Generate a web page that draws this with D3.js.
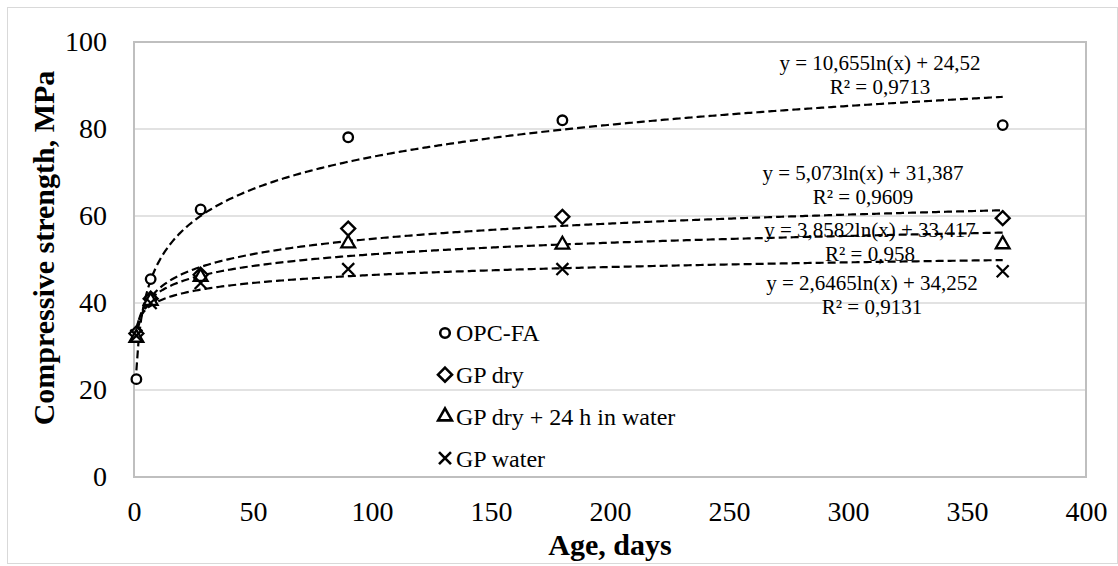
<!DOCTYPE html>
<html>
<head>
<meta charset="utf-8">
<title>Compressive strength vs age</title>
<style>
  body { margin: 0; background: #fff; }
  svg { display: block; font-family: "Liberation Serif", "Times New Roman", serif; }
  .tick text { font-size: 28px; fill: #000; }
  .eq { font-size: 21px; fill: #000; }
  .legend text { font-size: 24px; fill: #000; }
  .title { font-size: 30px; font-weight: bold; fill: #000; }
</style>
</head>
<body>
<script src="https://d3js.org/d3.v7.min.js"></script>
<script>
// chart data
var ages = [1, 7, 28, 90, 180, 365];
var seriesNames = ["OPC-FA", "GP dry", "GP dry + 24 h in water", "GP water"];
var opcFa   = [22.5, 45.5, 61.5, 78.1, 82.0, 80.9];
var gpDry   = [33.0, 41.0, 46.5, 57.1, 59.8, 59.5];
var gpDry24 = [32.0, 40.5, 46.0, 53.7, 53.4, 53.5];
var gpWater = [32.5, 40.0, 44.6, 47.8, 47.8, 47.3];
// log trendline coefficients y = a ln(x) + b
var trendA = [10.655, 5.073, 3.8582, 2.6465];
var trendB = [24.52, 31.387, 33.417, 34.252];
var trendR2 = ["0,9713", "0,9609", "0,958", "0,9131"];
var trendEq = ["y = 10,655ln(x) + 24,52", "y = 5,073ln(x) + 31,387",
               "y = 3,8582ln(x) + 33,417", "y = 2,6465ln(x) + 34,252"];
var xTicks = [0, 50, 100, 150, 200, 250, 300, 350, 400];
var yTicks = [0, 20, 40, 60, 80, 100];

var W = 1118, H = 566;
var plot = { left: 134, right: 1086, top: 42, bottom: 477 };

var svg = d3.select("body").append("svg").attr("width", W).attr("height", H);

// outer chart border
svg.append("rect")
  .attr("x", 7.5).attr("y", 7.5).attr("width", W - 8).attr("height", H - 10)
  .attr("fill", "none").attr("stroke", "#d9d9d9").attr("stroke-width", 1);

var x = d3.scaleLinear().domain([0, 400]).range([plot.left, plot.right]);
var y = d3.scaleLinear().domain([0, 100]).range([plot.bottom, plot.top]);

// gridlines
svg.append("g").selectAll("line")
  .data(yTicks.filter(function(d) { return d > 0 && d < 100; }))
  .enter().append("line")
  .attr("x1", plot.left).attr("x2", plot.right)
  .attr("y1", function(d) { return y(d); }).attr("y2", function(d) { return y(d); })
  .attr("stroke", "#d9d9d9").attr("stroke-width", 1.5);

// plot area border
svg.append("rect")
  .attr("x", plot.left).attr("y", plot.top)
  .attr("width", plot.right - plot.left).attr("height", plot.bottom - plot.top)
  .attr("fill", "none").attr("stroke", "#bfbfbf").attr("stroke-width", 2);

// axes (labels only)
var xAxis = svg.append("g")
  .attr("transform", "translate(0," + plot.bottom + ")")
  .call(d3.axisBottom(x).tickValues(xTicks).tickSize(0).tickPadding(24));
xAxis.select(".domain").remove();

var yAxis = svg.append("g")
  .attr("transform", "translate(" + plot.left + ",0)")
  .call(d3.axisLeft(y).tickValues(yTicks).tickSize(0).tickPadding(27));
yAxis.select(".domain").remove();
xAxis.attr("font-family", null).attr("font-size", null);
yAxis.attr("font-family", null).attr("font-size", null);

// axis titles
svg.append("text").attr("class", "title")
  .attr("x", (plot.left + plot.right) / 2).attr("y", 555)
  .attr("text-anchor", "middle").text("Age, days");
svg.append("text").attr("class", "title")
  .attr("transform", "translate(43,248) rotate(-90)")
  .attr("text-anchor", "middle").attr("dy", "0.35em")
  .text("Compressive strength, MPa");

// trendlines
var allSeries = [opcFa, gpDry, gpDry24, gpWater];
var symbols = [d3.symbolCircle, d3.symbolDiamond2, d3.symbolTriangle2, d3.symbolTimes];
var symSizes = [72, 125, 135, 95];

var samples = d3.range(1, 365.5, 1);
var line = d3.line()
  .x(function(d) { return x(d[0]); })
  .y(function(d) { return y(d[1]); });

trendA.forEach(function(a, i) {
  var pts = samples.map(function(t) { return [t, a * Math.log(t) + trendB[i]]; });
  svg.append("path")
    .attr("d", line(pts))
    .attr("fill", "none").attr("stroke", "#000")
    .attr("stroke-width", 2.2).attr("stroke-dasharray", "8,4");
});

// markers
allSeries.forEach(function(vals, i) {
  svg.append("g").selectAll("path")
    .data(vals)
    .enter().append("path")
    .attr("transform", function(d, j) { return "translate(" + x(ages[j]) + "," + y(d) + ")"; })
    .attr("d", d3.symbol().type(symbols[i]).size(symSizes[i]))
    .attr("fill", i === 3 ? "none" : "#fff")
    .attr("stroke", "#000").attr("stroke-width", 2.3);
});

// trend equations
var eqPos = [[880, 63], [863, 173], [870, 230], [872, 283]];
trendEq.forEach(function(t, i) {
  var g = svg.append("g");
  g.append("text").attr("class", "eq")
    .attr("x", eqPos[i][0]).attr("y", eqPos[i][1]).attr("dy", "0.35em")
    .attr("text-anchor", "middle").text(t);
  g.append("text").attr("class", "eq")
    .attr("x", eqPos[i][0]).attr("y", eqPos[i][1] + 24).attr("dy", "0.35em")
    .attr("text-anchor", "middle").text("R\u00b2 = " + trendR2[i]);
});

// legend
var legend = svg.append("g").attr("class", "legend");
seriesNames.forEach(function(name, i) {
  var ly = 333 + i * 41.7;
  legend.append("path")
    .attr("transform", "translate(445," + ly + ")")
    .attr("d", d3.symbol().type(symbols[i]).size(symSizes[i]))
    .attr("fill", i === 3 ? "none" : "#fff")
    .attr("stroke", "#000").attr("stroke-width", 2.6);
  legend.append("text")
    .attr("x", 456).attr("y", ly).attr("dy", "0.35em")
    .text(name);
});
</script>
</body>
</html>
